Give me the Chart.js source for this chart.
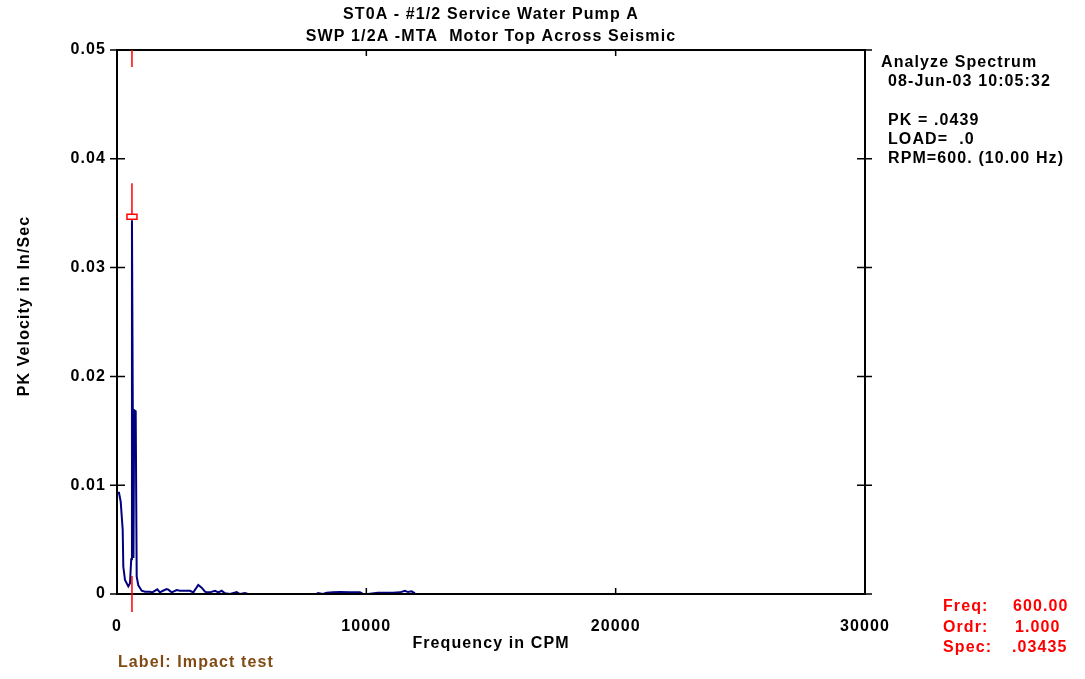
<!DOCTYPE html>
<html>
<head>
<meta charset="utf-8">
<script src="https://cdn.jsdelivr.net/npm/chart.js@4/dist/chart.umd.min.js"></script>
<style>
  html, body { margin: 0; padding: 0; background: #ffffff; }
  #wrap { width: 1085px; height: 679px; }
</style>
</head>
<body>
<div id="wrap"><canvas id="c" width="1085" height="679"></canvas></div>
<script>
// ---- data ----
const titleLines = ["ST0A - #1/2 Service Water Pump A", "SWP 1/2A -MTA  Motor Top Across Seismic"];
const xAxisTitle = "Frequency in CPM";
const yAxisTitle = "PK Velocity in In/Sec";
const xTickValues = [0, 10000, 20000, 30000];
const yTickValues = [0, 0.01, 0.02, 0.03, 0.04, 0.05];
const freqCPM = [30, 80, 148, 229, 253, 321, 453, 521, 570, 600, 660, 690, 720, 750, 790, 854, 990, 1123, 1323, 1416, 1616, 1724, 1845, 1993, 2057, 2193, 2394, 2526, 2659, 2795, 2927, 3060, 3260, 3396, 3529, 3597, 3729, 3930, 4062, 4198, 4331, 4531, 4800, 4932, 5133, 5253, 5414, 5700, 6500, 7300, 8008, 8060, 8261, 8409, 8662, 8942, 9343, 9744, 9864, 10065, 10466, 10747, 11068, 11348, 11549, 11669, 11818, 11950];
const pkVelocity = [0.0093, 0.0093, 0.0085, 0.0059, 0.0025, 0.0013, 0.0007, 0.0010, 0.0032, 0.03435, 0.0033, 0.0169, 0.0169, 0.0168, 0.0016, 0.0008, 0.0003, 0.00021, 0.00021, 0.00015, 0.00043, 0.00015, 0.0003, 0.00046, 0.0004, 0.00015, 0.00037, 0.0003, 0.0003, 0.0003, 0.0003, 0.00015, 0.00083, 0.00058, 0.00021, 0.00015, 0.00015, 0.0003, 0.00015, 0.0003, 0.00006, 0, 0.00018, 0, 0.00009, 0, 0, 0, 0, 0, 0, 0.00009, 0, 0.00012, 0.00015, 0.00018, 0.00015, 0.00015, 0, 0, 0.00012, 0.00012, 0.00012, 0.00015, 0.0003, 0.00018, 0.00025, 0.00006];
const cursorFreq = 600;
const cursorSpec = 0.03435;
const infoLines = ["Analyze Spectrum", "08-Jun-03 10:05:32", "", "PK = .0439", "LOAD=  .0", "RPM=600. (10.00 Hz)"];
const cursorLabels = ["Freq:", "Ordr:", "Spec:"];
const cursorValues = ["600.00", "1.000", ".03435"];
const noteText = "Label: Impact test";

const FONT = "'Liberation Sans', Arial, sans-serif";
const SPACING = '1.1px';

const spacingPlugin = {
  id: 'spacing',
  beforeUpdate(chart) { chart.ctx.letterSpacing = SPACING; },
  beforeLayout(chart) { chart.ctx.letterSpacing = SPACING; },
  beforeDraw(chart) { chart.ctx.letterSpacing = SPACING; }
};

const framePlugin = {
  id: 'frame',
  afterDraw(chart) {
    const ctx = chart.ctx;
    const a = chart.chartArea;
    const xs = chart.scales.x, ys = chart.scales.y;
    ctx.save();
    ctx.letterSpacing = SPACING;
    // frame
    ctx.strokeStyle = '#000';
    ctx.lineWidth = 2;
    ctx.strokeRect(a.left, a.top, a.right - a.left, a.bottom - a.top);
    // ticks
    ctx.lineWidth = 1.5;
    ctx.beginPath();
    yTickValues.forEach(v => {
      const py = ys.getPixelForValue(v);
      ctx.moveTo(a.left - 7, py); ctx.lineTo(a.left + 8, py);
      ctx.moveTo(a.right - 8, py); ctx.lineTo(a.right + 7, py);
    });
    xTickValues.forEach(v => {
      const px = xs.getPixelForValue(v);
      ctx.moveTo(px, a.top); ctx.lineTo(px, a.top + 6);
      ctx.moveTo(px, a.bottom); ctx.lineTo(px, a.bottom - 6);
    });
    ctx.stroke();
    // cursor
    const cx = xs.getPixelForValue(cursorFreq);
    const cy = ys.getPixelForValue(cursorSpec);
    const y0 = ys.getPixelForValue(0);
    ctx.strokeStyle = '#ff0000';
    ctx.lineWidth = 1.5;
    ctx.beginPath();
    ctx.moveTo(cx, a.top); ctx.lineTo(cx, a.top + 17);
    ctx.moveTo(cx, cy - 37); ctx.lineTo(cx, cy - 6);
    ctx.moveTo(cx, y0 - 18); ctx.lineTo(cx, y0 + 18);
    ctx.stroke();
    ctx.fillStyle = '#fff';
    ctx.fillRect(cx - 5, cy - 6, 10, 5);
    ctx.strokeRect(cx - 5, cy - 6, 10, 5);
    // y axis title
    ctx.fillStyle = '#000';
    ctx.font = 'bold 16px ' + FONT;
    ctx.textAlign = 'center';
    ctx.textBaseline = 'middle';
    ctx.save();
    ctx.translate(25, 306);
    ctx.rotate(-Math.PI / 2);
    ctx.fillText(yAxisTitle, 0, 0);
    ctx.restore();
    // info text
    ctx.textBaseline = 'middle';
    ctx.textAlign = 'left';
    ctx.fillStyle = '#000';
    const infoY = [63, 82, 101, 121, 140, 159];
    infoLines.forEach((t, i) => {
      if (t) ctx.fillText(t, i === 0 ? 881 : 888, infoY[i]);
    });
    ctx.fillStyle = '#ff0000';
    const cyL = [607, 628, 648];
    const valX = [1013, 1015, 1012];
    cursorLabels.forEach((t, i) => {
      ctx.fillText(t, 943, cyL[i]);
      ctx.fillText(cursorValues[i], valX[i], cyL[i]);
    });
    ctx.fillStyle = '#804a14';
    ctx.fillText(noteText, 118, 663);
    ctx.restore();
  }
};

const points = freqCPM.map((f, i) => ({ x: f, y: pkVelocity[i] }));

new Chart(document.getElementById('c'), {
  type: 'scatter',
  data: {
    datasets: [{
      data: points,
      showLine: true,
      borderColor: '#000080',
      borderWidth: 2,
      pointRadius: 0,
      tension: 0,
      fill: false
    }]
  },
  options: {
    responsive: false,
    animation: false,
    devicePixelRatio: 1,
    layout: { padding: { left: 0, right: 220, top: 0, bottom: 0 } },
    plugins: {
      legend: { display: false },
      tooltip: { enabled: false },
      title: {
        display: true,
        fullSize: false,
        text: titleLines,
        color: '#000',
        font: { family: FONT, size: 16, weight: 'bold', lineHeight: 1.36 },
        padding: { top: 4, bottom: 2.5 }
      }
    },
    scales: {
      x: {
        type: 'linear',
        min: 0, max: 30000,
        grid: { display: false },
        border: { display: false },
        afterBuildTicks(scale) { scale.ticks = xTickValues.map(v => ({ value: v })); },
        afterFit(scale) { scale.height = 85; },
        ticks: {
          color: '#000',
          padding: 15,
          maxRotation: 0,
          font: { family: FONT, size: 16, weight: 'bold' },
          callback: v => String(v)
        },
        title: {
          display: true,
          text: xAxisTitle,
          color: '#000',
          font: { family: FONT, size: 16, weight: 'bold' },
          padding: { top: 4, bottom: 26 }
        }
      },
      y: {
        type: 'linear',
        min: 0, max: 0.05,
        grid: { display: false },
        border: { display: false },
        afterBuildTicks(scale) { scale.ticks = yTickValues.map(v => ({ value: v })); },
        afterFit(scale) { scale.width = 117; },
        ticks: {
          color: '#000',
          padding: 3,
          font: { family: FONT, size: 16, weight: 'bold' },
          callback: v => (v === 0 ? '0' : v.toFixed(2))
        },
        title: { display: false }
      }
    }
  },
  plugins: [spacingPlugin, framePlugin]
});
</script>
</body>
</html>
